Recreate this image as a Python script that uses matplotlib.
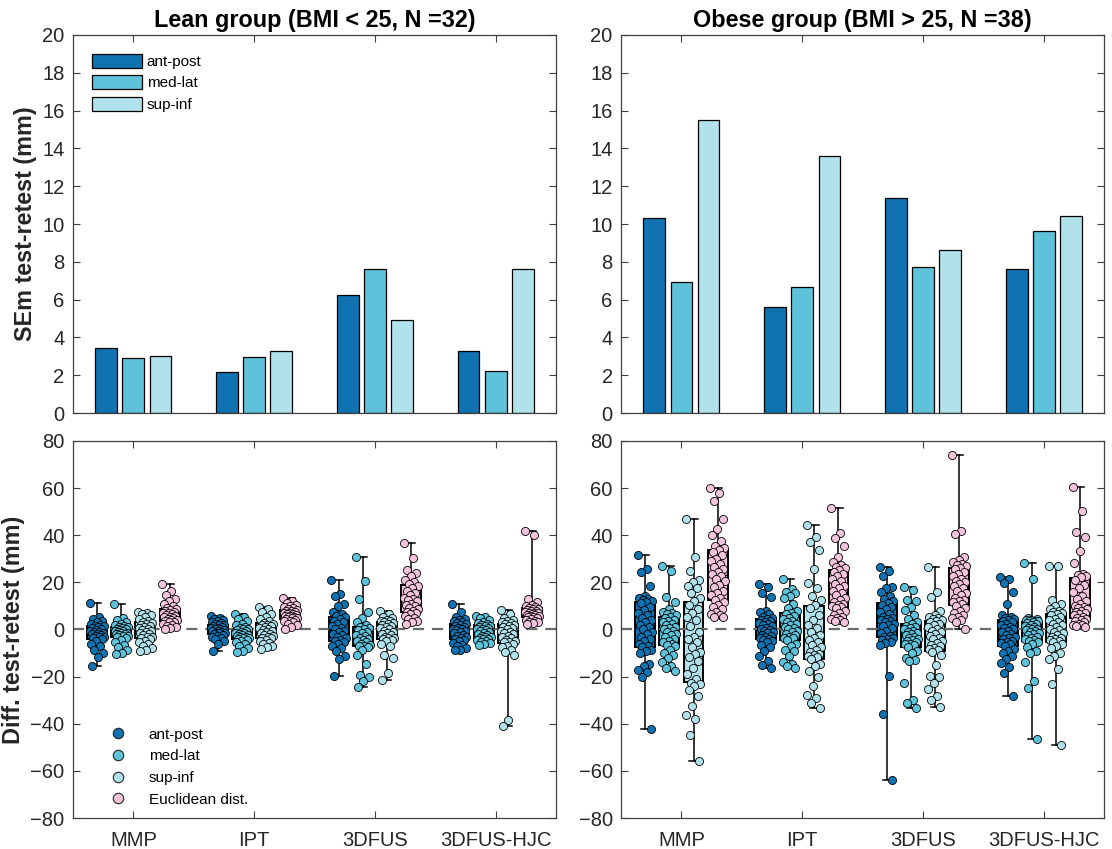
import numpy as np
import matplotlib
matplotlib.use('Agg')
import matplotlib.pyplot as plt
from matplotlib.lines import Line2D

plt.rcParams['font.family'] = ['Liberation Sans', 'DejaVu Sans']

# ---------------- data ----------------
methods = ['MMP', 'IPT', '3DFUS', '3DFUS-HJC']
axes_names = ['ant-post', 'med-lat', 'sup-inf']
titles = ['Lean group (BMI < 25, N =32)', 'Obese group (BMI > 25, N =38)']

# SEm test-retest (mm), per method: ant-post, med-lat, sup-inf
sem_lean_ap = [3.45, 2.15, 6.25, 3.30]
sem_lean_ml = [2.90, 2.95, 7.60, 2.20]
sem_lean_si = [3.00, 3.30, 4.90, 7.60]
sem_obese_ap = [10.30, 5.60, 11.40, 7.60]
sem_obese_ml = [6.95, 6.65, 7.70, 9.65]
sem_obese_si = [15.50, 13.60, 8.65, 10.45]

# differences test-retest (mm), lean group (N=32)
lean_mmp_ap = [11.4, 5.5, 4.5, 3.8, 3.0, 2.5, 2.0, 1.6, 1.3, 1.0, 0.6, 0.2, -0.2, -0.5, -0.9, -1.2,
               -1.5, -1.8, -2.1, -2.4, -2.7, -3.0, -3.3, -3.7, -4.2, -5.0, -6.0, -7.0, -8.5, -10.0, -11.5, -15.5]
lean_mmp_ml = [10.7, 4.8, 4.0, 3.2, 2.5, 2.0, 1.5, 1.1, 0.9, 0.6, 0.3, 0.0, -0.3, -0.5, -0.8, -1.0,
               -1.3, -1.6, -1.9, -2.1, -2.4, -2.6, -2.8, -3.0, -3.5, -4.5, -5.5, -6.5, -7.5, -8.5, -10.0, -10.3]
lean_mmp_si = [7.3, 7.0, 6.5, 6.0, 5.2, 4.5, 3.8, 3.3, 2.9, 2.5, 2.0, 1.5, 1.0, 0.6, 0.2, -0.2,
               -0.6, -1.0, -1.5, -2.0, -2.5, -3.0, -3.3, -3.6, -4.0, -4.8, -5.5, -6.2, -7.0, -8.0, -8.8, -9.3]
lean_mmp_eu = [19.2, 16.5, 14.5, 13.0, 12.0, 11.0, 10.0, 9.0, 8.5, 8.2, 7.8, 7.5, 7.2, 6.8, 6.5, 6.2,
               5.8, 5.5, 5.2, 4.8, 4.5, 4.2, 3.9, 3.6, 3.3, 3.0, 2.5, 2.0, 1.5, 1.0, 0.6, 0.2]
lean_ipt_ap = [5.8, 5.0, 4.5, 4.0, 3.5, 3.0, 2.6, 2.2, 2.0, 1.7, 1.4, 1.1, 0.8, 0.5, 0.2, 0.0,
               -0.2, -0.5, -0.8, -1.0, -1.3, -1.5, -1.7, -1.9, -2.2, -2.6, -3.0, -3.6, -4.2, -5.0, -6.2, -9.0]
lean_ipt_ml = [6.5, 5.5, 4.5, 3.5, 2.5, 1.8, 1.2, 0.7, 0.3, 0.0, -0.3, -0.7, -1.0, -1.3, -1.6, -1.9,
               -2.2, -2.5, -2.8, -3.0, -3.3, -3.5, -3.7, -3.9, -4.3, -4.8, -5.5, -6.3, -7.0, -8.0, -9.0, -9.6]
lean_ipt_si = [9.4, 8.5, 7.5, 6.5, 5.5, 4.5, 3.5, 2.9, 2.5, 2.1, 1.7, 1.3, 0.9, 0.5, 0.1, -0.3,
               -0.7, -1.1, -1.5, -1.9, -2.3, -2.7, -3.0, -3.4, -3.8, -4.3, -5.0, -5.6, -6.2, -7.0, -7.6, -8.3]
lean_ipt_eu = [13.3, 12.0, 11.2, 10.5, 10.0, 9.5, 9.0, 8.5, 8.2, 8.0, 7.7, 7.5, 7.2, 7.0, 6.7, 6.4,
               6.1, 5.8, 5.6, 5.3, 5.1, 4.9, 4.7, 4.5, 4.2, 3.8, 3.4, 3.0, 2.4, 1.8, 1.0, 0.4]
lean_3d_ap = [21.2, 15.0, 14.0, 11.0, 10.0, 7.3, 6.5, 5.8, 5.2, 4.5, 3.8, 3.0, 2.3, 1.5, 0.8, 0.2,
              -0.5, -1.2, -1.8, -2.5, -3.2, -3.8, -4.4, -4.9, -5.3, -6.0, -7.0, -7.9, -9.0, -11.4, -12.4, -19.7]
lean_3d_ml = [30.7, 20.7, 13.0, 7.3, 5.0, 3.0, 2.0, 1.2, 0.8, 0.2, -0.4, -1.0, -1.6, -2.2, -2.8, -3.4,
              -4.0, -4.6, -5.0, -5.5, -6.0, -6.4, -6.8, -7.1, -7.5, -8.5, -11.0, -14.5, -19.5, -20.0, -22.0, -24.5]
lean_3d_si = [8.0, 6.5, 5.5, 4.8, 4.2, 3.8, 3.5, 3.2, 2.9, 2.5, 2.0, 1.5, 1.0, 0.5, 0.0, -0.5,
              -1.0, -1.5, -2.0, -2.5, -3.0, -3.5, -3.8, -4.1, -4.5, -5.0, -6.0, -7.2, -10.7, -12.0, -18.5, -21.6]
lean_3d_eu = [36.7, 30.5, 25.2, 23.8, 22.5, 21.0, 20.0, 19.2, 18.5, 17.5, 16.5, 15.5, 14.5, 13.5, 13.0, 12.5,
              12.0, 11.0, 10.5, 10.0, 9.0, 8.5, 8.0, 7.5, 7.0, 6.5, 5.8, 5.0, 4.5, 3.8, 3.0, 2.4]
lean_hjc_ap = [10.9, 7.3, 5.5, 4.5, 4.0, 3.5, 3.0, 2.7, 2.3, 2.0, 1.6, 1.2, 0.8, 0.4, 0.0, -0.4,
               -0.8, -1.2, -1.7, -2.2, -2.7, -3.2, -3.6, -4.0, -4.5, -5.0, -5.8, -6.5, -7.2, -8.0, -8.5, -8.9]
lean_hjc_ml = [5.9, 5.5, 4.8, 4.0, 3.3, 2.8, 2.3, 2.0, 1.6, 1.3, 1.0, 0.7, 0.4, 0.1, -0.3, -0.6,
               -1.0, -1.4, -1.8, -2.2, -2.6, -3.0, -3.3, -3.6, -3.9, -4.2, -4.6, -5.0, -5.4, -5.8, -6.2, -6.5]
lean_hjc_si = [8.3, 6.5, 5.0, 4.2, 3.5, 3.0, 2.7, 2.4, 2.1, 1.6, 1.0, 0.5, 0.0, -0.5, -1.0, -1.5,
               -2.0, -2.6, -3.2, -3.8, -4.3, -4.8, -5.2, -5.5, -6.0, -6.8, -7.5, -8.5, -9.5, -11.0, -38.5, -41.0]
lean_hjc_eu = [42.0, 40.0, 12.8, 11.5, 10.5, 10.0, 9.5, 9.2, 8.9, 8.6, 8.3, 8.0, 7.8, 7.5, 7.2, 7.0,
               6.8, 6.5, 6.3, 6.0, 5.8, 5.6, 5.4, 5.2, 4.8, 4.4, 4.0, 3.6, 3.3, 3.0, 2.7, 2.4]

# differences test-retest (mm), obese group (N=38)
obese_mmp_ap = [31.8, 25.6, 24.6, 18.6, 14.0, 13.5, 13.0, 12.5, 12.0, 11.6, 11.2, 9.5, 8.3, 7.0, 6.0, 5.0, 4.0, 3.0, 2.0,
                1.0, 0.0, -1.0, -2.0, -3.0, -4.0, -5.0, -6.0, -6.9, -7.5, -8.6, -9.0, -10.0, -14.5, -15.7, -17.0, -18.0, -20.3, -42.2]
obese_mmp_ml = [27.1, 25.0, 13.6, 11.7, 8.5, 7.6, 7.0, 6.5, 6.0, 5.3, 4.8, 4.2, 3.6, 3.0, 2.4, 1.8, 1.2, 0.6, 0.0,
                -0.6, -1.2, -1.8, -2.5, -3.2, -4.0, -4.8, -5.5, -6.0, -6.5, -7.2, -8.5, -10.0, -11.0, -12.1, -14.0, -15.7, -16.5, -17.8]
obese_mmp_si = [47.0, 30.6, 25.0, 21.0, 20.0, 18.5, 17.5, 15.5, 13.5, 12.0, 10.5, 8.5, 7.0, 5.5, 4.0, 1.5, -1.0, -3.0, -4.1,
                -5.5, -7.5, -9.6, -10.5, -11.5, -13.5, -16.5, -19.0, -21.0, -22.5, -23.0, -24.0, -25.5, -28.4, -32.6, -36.2, -37.9, -44.8, -56.0]
obese_mmp_eu = [59.9, 57.8, 54.4, 46.9, 42.7, 40.1, 37.6, 35.5, 34.5, 33.8, 33.0, 31.5, 30.0, 29.0, 28.0, 26.5, 25.5, 24.5, 23.5,
                22.5, 21.5, 20.5, 19.0, 18.0, 16.5, 15.5, 14.5, 13.2, 12.5, 11.5, 10.5, 9.5, 8.5, 7.5, 6.5, 6.0, 5.5, 5.1]
obese_ipt_ap = [19.5, 18.2, 15.4, 13.8, 8.0, 7.6, 6.5, 5.5, 5.0, 4.6, 4.2, 3.8, 3.3, 2.8, 2.3, 1.8, 1.3, 0.8, 0.3,
                -0.2, -0.7, -1.2, -1.7, -2.2, -2.7, -3.2, -3.6, -3.9, -4.3, -5.0, -5.5, -6.5, -7.6, -9.0, -11.2, -13.3, -15.0, -16.5]
obese_ipt_ml = [21.3, 17.1, 16.0, 15.4, 14.0, 13.3, 11.0, 9.0, 8.0, 7.2, 6.5, 5.8, 5.0, 4.3, 3.6, 3.0, 2.4, 1.8, 1.2,
                0.6, 0.0, -0.6, -1.2, -1.8, -2.4, -3.0, -3.4, -3.7, -4.5, -6.0, -7.2, -8.5, -9.3, -11.4, -13.6, -14.5, -15.7, -16.4]
obese_ipt_si = [44.2, 39.3, 37.1, 33.6, 25.6, 19.9, 17.5, 14.0, 12.5, 10.2, 9.0, 6.0, 4.0, 2.0, 0.5, -1.0, -2.5, -3.5, -4.5,
                -5.5, -6.5, -7.5, -8.6, -9.5, -10.5, -11.0, -11.4, -11.8, -12.5, -14.7, -15.5, -17.8, -20.0, -24.0, -27.7, -29.2, -31.0, -33.2]
obese_ipt_eu = [51.4, 41.1, 38.7, 35.5, 30.9, 28.8, 27.5, 26.5, 26.0, 25.4, 24.5, 23.5, 22.5, 21.5, 20.5, 19.5, 18.5, 17.5, 16.5,
                15.5, 14.5, 13.5, 12.5, 11.8, 11.0, 10.5, 10.0, 9.7, 9.0, 8.0, 7.0, 6.0, 5.5, 5.0, 4.5, 4.0, 3.5, 3.1]
obese_3d_ap = [26.4, 25.0, 22.5, 18.2, 17.5, 15.8, 14.0, 13.0, 12.0, 11.3, 10.5, 9.5, 8.5, 7.5, 6.5, 5.5, 5.0, 4.5, 4.0,
               3.5, 3.0, 2.5, 2.0, 1.5, 0.5, -0.5, -1.5, -2.8, -3.2, -3.5, -4.0, -4.5, -5.1, -5.8, -6.5, -19.9, -35.9, -64.0]
obese_3d_ml = [17.9, 16.8, 12.5, 11.9, 9.7, 8.3, 6.0, 4.5, 3.0, 2.3, 1.6, 1.0, 0.5, 0.0, -0.5, -1.0, -1.5, -2.0, -2.5,
               -3.0, -3.5, -4.0, -4.5, -5.0, -5.5, -6.0, -6.3, -6.5, -7.5, -9.0, -10.0, -12.0, -12.9, -13.5, -22.6, -29.8, -31.0, -33.3]
obese_3d_si = [26.6, 16.1, 13.7, 8.0, 6.0, 5.5, 5.0, 4.5, 4.0, 3.6, 3.0, 2.5, 1.8, 1.0, 0.3, -0.5, -1.2, -2.0, -2.8,
               -3.5, -4.2, -5.0, -5.7, -6.4, -7.1, -7.8, -8.3, -8.8, -9.5, -11.0, -15.0, -19.9, -20.0, -22.5, -25.3, -28.1, -30.0, -33.0]
obese_3d_eu = [74.2, 41.7, 40.4, 30.9, 29.5, 28.5, 28.0, 27.5, 27.0, 26.3, 25.5, 24.5, 23.5, 22.5, 21.5, 20.5, 20.0, 19.5, 18.5,
               17.5, 16.5, 15.5, 14.5, 13.5, 12.5, 12.0, 11.5, 11.0, 10.0, 9.0, 8.0, 7.0, 6.0, 5.5, 5.0, 4.0, 3.0, 0.0]
obese_hjc_ap = [22.3, 21.5, 19.6, 16.1, 10.7, 6.1, 5.5, 5.0, 4.5, 4.2, 3.6, 3.0, 2.4, 1.8, 1.2, 0.6, 0.0, -0.6, -1.2,
                -1.8, -2.4, -3.0, -3.6, -4.2, -4.8, -5.4, -5.9, -6.3, -7.0, -8.3, -9.0, -10.0, -11.4, -12.5, -14.3, -16.0, -18.5, -28.1]
obese_hjc_ml = [28.4, 21.6, 5.0, 4.5, 4.2, 4.0, 3.8, 3.6, 3.4, 3.2, 2.8, 2.4, 2.0, 1.6, 1.2, 0.8, 0.4, 0.0, -0.4,
                -0.8, -1.2, -1.6, -2.0, -2.5, -3.0, -3.5, -4.0, -4.3, -4.8, -5.1, -6.0, -7.5, -9.3, -10.0, -13.6, -22.0, -24.9, -46.5]
obese_hjc_si = [27.1, 26.8, 12.6, 11.0, 10.0, 8.6, 8.0, 7.5, 7.0, 6.6, 6.0, 5.3, 4.6, 3.9, 3.2, 2.5, 1.8, 1.1, 0.4,
                -0.3, -1.0, -1.7, -2.4, -3.0, -3.6, -4.2, -4.6, -5.0, -5.5, -6.0, -7.0, -8.0, -10.0, -11.4, -12.5, -16.8, -23.3, -49.0]
obese_hjc_eu = [60.6, 50.3, 41.4, 39.4, 33.2, 28.1, 23.6, 23.0, 22.8, 22.4, 21.0, 18.9, 17.5, 16.0, 14.0, 13.0, 12.0, 11.0, 10.0,
                9.5, 9.0, 8.5, 8.0, 7.5, 7.0, 6.5, 6.0, 5.4, 4.8, 4.5, 4.0, 3.5, 3.0, 2.5, 2.0, 1.8, 1.4, 1.0]

lean_diff = [[lean_mmp_ap, lean_mmp_ml, lean_mmp_si, lean_mmp_eu],
             [lean_ipt_ap, lean_ipt_ml, lean_ipt_si, lean_ipt_eu],
             [lean_3d_ap, lean_3d_ml, lean_3d_si, lean_3d_eu],
             [lean_hjc_ap, lean_hjc_ml, lean_hjc_si, lean_hjc_eu]]
obese_diff = [[obese_mmp_ap, obese_mmp_ml, obese_mmp_si, obese_mmp_eu],
              [obese_ipt_ap, obese_ipt_ml, obese_ipt_si, obese_ipt_eu],
              [obese_3d_ap, obese_3d_ml, obese_3d_si, obese_3d_eu],
              [obese_hjc_ap, obese_hjc_ml, obese_hjc_si, obese_hjc_eu]]

# ---------------- style ----------------
c_ap = '#1172b1'
c_ml = '#5ec2da'
c_si = '#b1e2ec'
c_eu = '#f4c4dc'
colors = [c_ap, c_ml, c_si, c_eu]
txt_gray = '#262626'
spine_gray = '#404040'


def style_axes(ax):
    ax.set_xlim(0.5, 4.5)
    ax.set_xticks([1, 2, 3, 4])
    ax.tick_params(direction='in', length=5, width=0.8, top=True, right=True,
                   labelsize=14.5, colors=spine_gray, labelcolor=txt_gray, pad=6)
    ax.tick_params(axis='x', pad=9)
    for s in ax.spines.values():
        s.set_color(spine_gray)
        s.set_linewidth(0.9)


fig = plt.figure(figsize=(11.12, 8.49), dpi=100)
ax_tl = fig.add_axes([0.0656, 0.5135, 0.4345, 0.4453])
ax_tr = fig.add_axes([0.5585, 0.5135, 0.4345, 0.4453])
ax_bl = fig.add_axes([0.0656, 0.0365, 0.4345, 0.4441])
ax_br = fig.add_axes([0.5585, 0.0365, 0.4345, 0.4441])

# ---- top row: SEm bars ----
x = np.arange(1, 5)
bw = 0.18
for ax, vals, title in [(ax_tl, [sem_lean_ap, sem_lean_ml, sem_lean_si], titles[0]),
                        (ax_tr, [sem_obese_ap, sem_obese_ml, sem_obese_si], titles[1])]:
    for k, v in enumerate(vals):
        ax.bar(x + (k - 1) * 0.225, v, width=bw, color=colors[k], edgecolor='black',
               linewidth=0.9, label=axes_names[k], zorder=2)
    style_axes(ax)
    ax.set_ylim(0, 20)
    ax.set_yticks(np.arange(0, 21, 2))
    ax.set_xticklabels([])
    ax.set_title(title, fontsize=16.8, fontweight='bold', color='black', pad=6)

ax_tl.set_ylabel('SEm test-retest (mm)', fontsize=16.8, fontweight='bold', color=txt_gray, labelpad=4)
ax_tl.legend(loc='upper left', fontsize=11, frameon=False, handlelength=3.3, handleheight=1.0,
             handletextpad=0.3, labelspacing=0.42, borderpad=0, borderaxespad=0,
             bbox_to_anchor=(0.039, 0.95))

# ---- bottom row: differences ----
offsets = [-0.3, -0.1, 0.1, 0.3]
for ax, groups in [(ax_bl, lean_diff), (ax_br, obese_diff)]:
    ax.axhline(0, color='#6b6b6b', lw=1.6, ls=(0, (5, 3.5)), zorder=2.5)
    for g, series in enumerate(groups):
        for k, vals in enumerate(series):
            pos = g + 1 + offsets[k]
            bp = ax.boxplot([vals], positions=[pos], widths=0.165, whis=(0, 100), patch_artist=True,
                            showfliers=False, capwidths=0.07, manage_ticks=False, zorder=2)
            for b in bp['boxes']:
                b.set_facecolor(colors[k])
                b.set_edgecolor('black')
                b.set_linewidth(1.4)
            for w in bp['whiskers'] + bp['caps']:
                w.set_color('black')
                w.set_linewidth(1.1)
            for m in bp['medians']:
                m.set_color('black')
                m.set_linewidth(1.0)
            n = len(vals)
            jit = ((np.arange(n) * 0.618034) % 1 - 0.5) * 0.12
            ax.scatter(pos + jit, vals, s=34, color=colors[k], edgecolors='black',
                       linewidths=0.6, zorder=3)
    style_axes(ax)
    ax.set_ylim(-80, 80)
    ax.set_yticks(np.arange(-80, 81, 20))
    ax.set_xticklabels(methods)

ax_bl.set_ylabel('Diff. test-retest (mm)', fontsize=16.8, fontweight='bold', color=txt_gray, labelpad=4)
handles = [Line2D([], [], marker='o', ls='none', markersize=7.5, markerfacecolor=c,
                  markeredgecolor='#222222', markeredgewidth=0.8) for c in colors]
ax_bl.legend(handles, axes_names + ['Euclidean dist.'], loc='lower left', fontsize=11,
             frameon=False, handlelength=2.0, handletextpad=1.0, labelspacing=0.5,
             borderpad=0, borderaxespad=0, bbox_to_anchor=(0.062, 0.03))

fig.savefig('out.png', dpi=100)
